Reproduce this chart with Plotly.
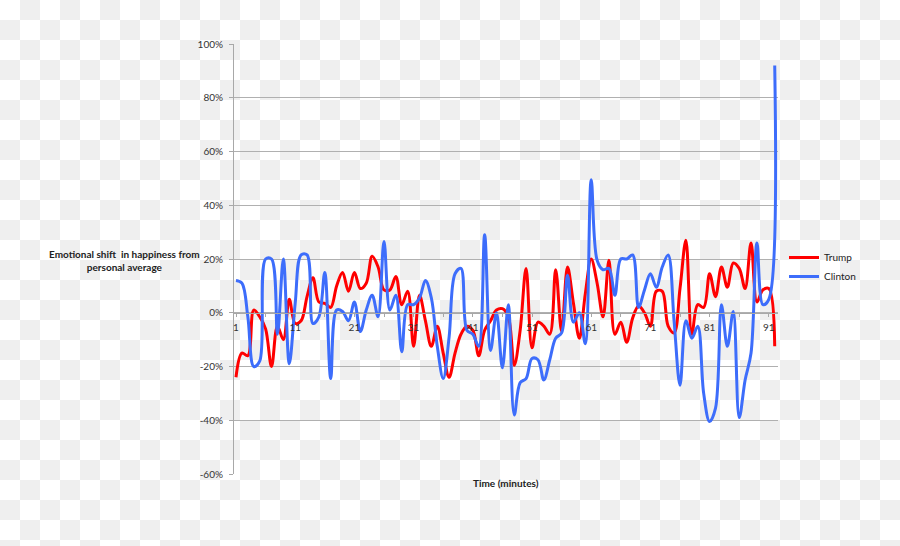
import plotly.graph_objects as go

minutes = list(range(1, 93))

trump = [-24, -15, -16, 1, -1.5, -6, -20, -5, -10, 5,
         -4, -3, 6, 13, 4, 3.5, 2, 10, 15, 8,
         15, 9, 11, 21, 17, 8.5, 8.5, 13.5, 3, 8,
         -12.5, 6.5, -3, -12.5, -5, -15, -24, -15, -8, -5,
         -6.5, -16, -6.5, -3, 1, 1.5, -1.5, -19.5, -6.5, 16.5,
         -13, -3.5, -5, -8, 16, -7, 17, 3.5, -9.5, 7,
         20, 11, -1.5, 19.5, -8, -3.5, -11, -2, 2.5, 0,
         -5, 8, 8, -5, -7.5, 9, 27, -8, 3, 2,
         14.5, 6, 17, 9.5, 18.5, 16.5, 9, 26, 4, 8.5,
         9, -12.5]

clinton = [12, 11, -1.5, -20, -18, 20, 20, -8, 20, -19,
           3.5, 21.5, 21.5, -4, -1.5, 15, -24.5, 1, 0.5, -3,
           4, -7, 1, 6.5, -1.5, 26.5, 1, 6.5, -14.5, 3,
           3, 5.5, 12, 5.5, -12.5, -24.5, -9, 14.5, 16.5, -6.5,
           -8, -12.5, 29, -14, 0, -20.5, 3, -38, -26, -24.5,
           -17, -17.5, -25, -17.5, -9.5, -7.5, 14, -3.5, 0, -11.5,
           49.5, 19.5, 16, 16.5, 6.5, 20, 20, 21.5, 2, 8.5,
           14.5, 9.5, 17, 21.5, -3, -27, -3, -9.5, -5, -30,
           -40.5, -35.5, 3, -12.5, 0.5, -39, -25, -15, 26, 3,
           5, 92]

y_ticks = [-60, -40, -20, 0, 20, 40, 60, 80, 100]
x_ticks = [1, 11, 21, 31, 41, 51, 61, 71, 81, 91]

FONT = "Lato"

fig = go.Figure()
fig.add_trace(go.Scatter(x=minutes, y=trump, name="Trump", mode="lines",
                         line=dict(color="#ff0000", width=3, shape="spline", smoothing=1)))
fig.add_trace(go.Scatter(x=minutes, y=clinton, name="Clinton", mode="lines",
                         line=dict(color="#3d6dfb", width=3, shape="spline", smoothing=1)))

L, R, T, B = 234, 122, 44, 72
W, H = 900, 546
pw, ph = W - L - R, H - T - B
ppu = 5.92
x0 = 1 - 2.0 / ppu
x1 = x0 + pw / ppu

# transparent-background checkerboard (decorative, page pixels -> paper coords)
cell = 20
shapes = []
for r in range((H + cell - 1) // cell):
    for c in range((W + cell - 1) // cell):
        if (r + c) % 2 == 1:
            px0, py0 = c * cell, r * cell
            px1, py1 = min(px0 + cell, W), min(py0 + cell, H)
            shapes.append(dict(type="rect", xref="paper", yref="paper", layer="below",
                               x0=(px0 - L) / pw, x1=(px1 - L) / pw,
                               y0=(H - B - py1) / ph, y1=(H - B - py0) / ph,
                               fillcolor="#efefef", line=dict(width=0)))

zero_pos = (0 - (-60)) / 160.0

fig.update_layout(
    width=W, height=H,
    margin=dict(l=L, r=R, t=T, b=B, pad=0),
    paper_bgcolor="#ffffff", plot_bgcolor="rgba(0,0,0,0)",
    font=dict(family=FONT, size=10, color="#333333"),
    shapes=shapes,
    showlegend=True,
    legend=dict(x=(784 - L) / pw, y=(474 - 243) / ph, xanchor="left", yanchor="top",
                font=dict(family=FONT, size=10, color="#222222"),
                bgcolor="rgba(0,0,0,0)", itemwidth=30, tracegroupgap=0),
    xaxis=dict(range=[x0, x1], anchor="free", position=zero_pos,
               tickmode="array", tickvals=x_ticks, ticktext=[str(v) for v in x_ticks],
               showgrid=False, zeroline=False,
               showline=True, linecolor="#a8a8a8", linewidth=1,
               ticks="outside", ticklen=3, tickcolor="#a8a8a8",
               ticklabelstandoff=2,
               tickfont=dict(family=FONT, size=10, color="#333333"),
               minor=dict(tickmode="linear", tick0=6, dtick=10, ticks="outside",
                          ticklen=3, tickcolor="#a8a8a8", showgrid=False)),
    yaxis=dict(range=[-60, 100], tickmode="array", tickvals=y_ticks,
               ticktext=[f"{v}%" for v in y_ticks],
               showgrid=True, gridcolor="#b0b0b0", gridwidth=1,
               zeroline=False, showline=True, linecolor="#a8a8a8", linewidth=1,
               ticks="outside", ticklen=4, tickcolor="#a8a8a8",
               ticklabelstandoff=4,
               tickfont=dict(family=FONT, size=10, color="#333333")),
    annotations=[
        dict(text="<b>Emotional shift  in happiness from<br>personal average</b>",
             xref="paper", yref="paper", x=(124 - L) / pw, y=(474 - 260) / ph,
             xanchor="center", yanchor="middle", showarrow=False, align="center",
             font=dict(family=FONT, size=10, color="#222222")),
        dict(text="<b>Time (minutes)</b>", xref="paper", yref="paper",
             x=(506 - L) / pw, y=(474 - 483) / ph, xanchor="center", yanchor="middle",
             showarrow=False, font=dict(family=FONT, size=10, color="#222222")),
    ],
)

fig.write_html("out.html")
